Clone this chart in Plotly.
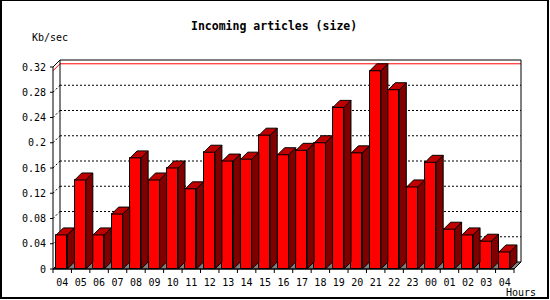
import plotly.graph_objects as go

# ---------------- data ----------------
hours = ["04", "05", "06", "07", "08", "09", "10", "11", "12", "13", "14", "15",
         "16", "17", "18", "19", "20", "21", "22", "23", "00", "01", "02", "03", "04"]
kb_per_sec = [0.054, 0.141, 0.054, 0.087, 0.176, 0.141, 0.160, 0.127, 0.185, 0.171,
              0.174, 0.212, 0.181, 0.188, 0.200, 0.256, 0.184, 0.314, 0.284, 0.130,
              0.169, 0.063, 0.054, 0.044, 0.027]
y_ticks = [0, 0.04, 0.08, 0.12, 0.16, 0.2, 0.24, 0.28, 0.32]
y_tick_text = ["0", "0.04", "0.08", "0.12", "0.16", "0.2", "0.24", "0.28", "0.32"]
title_text = "Incoming articles (size)"
y_title = "Kb/sec"
x_title = "Hours"

# ---------------- geometry ----------------
W, H = 550, 300
N = len(hours)
YMAX = 0.32
FRONT_X0 = 53          # px of front-left axis
FRONT_Y0 = 269         # px of front baseline
UNIT_PX = 18.44        # px per category
Y_PX = 631.25          # px per unit value
DEPTH_X, DEPTH_Y = 7, 7  # 3D depth in px
SL, SB, SR, ST = 6, 6, 2, 2  # slack around frame

DXU = DEPTH_X / UNIT_PX
DYU = DEPTH_Y / Y_PX
L = FRONT_X0 - SL
frame_right_px = FRONT_X0 + N * UNIT_PX + DEPTH_X
R = W - (frame_right_px + SR)
B = H - (FRONT_Y0 + SB)
frame_top_px = FRONT_Y0 - YMAX * Y_PX - DEPTH_Y
T = frame_top_px - ST
PW = W - L - R
PH = H - T - B

x_lo = -0.5 - SL / UNIT_PX
x_hi = N - 0.5 + (DEPTH_X + SR) / UNIT_PX
y_lo = -SB / Y_PX
y_hi = YMAX + (DEPTH_Y + ST) / Y_PX


def px_x(p):
    return (p - L) / PW


def px_y(p):
    return 1 - (p - T) / PH


FONT = "DejaVu Sans Mono"
BAR_W = 0.6
BAR_OFF = -0.32

fig = go.Figure()

# side faces and top faces
sx, sy, tx, ty = [], [], [], []
for i, v in enumerate(kb_per_sec):
    xl = i + BAR_OFF
    xr = xl + BAR_W
    sx += [xr, xr + DXU, xr + DXU, xr, xr, None]
    sy += [0, DYU, v + DYU, v, 0, None]
    tx += [xl, xr, xr + DXU, xl + DXU, xl, None]
    ty += [v, v, v + DYU, v + DYU, v, None]

fig.add_trace(go.Bar(
    x=list(range(N)), y=kb_per_sec, width=BAR_W, offset=BAR_OFF,
    marker=dict(color="#ff0000", line=dict(color="black", width=1)),
    hoverinfo="skip", showlegend=False))
fig.add_trace(go.Scatter(x=sx, y=sy, mode="lines", fill="toself",
                         fillcolor="#800000", line=dict(color="black", width=1),
                         hoverinfo="skip", showlegend=False))
fig.add_trace(go.Scatter(x=tx, y=ty, mode="lines", fill="toself",
                         fillcolor="#c00000", line=dict(color="black", width=1),
                         hoverinfo="skip", showlegend=False))

shapes = []
xl0, xr0 = -0.5, N - 0.5
# floor
shapes.append(dict(type="path", layer="below",
                   path=f"M {xl0} 0 L {xr0} 0 L {xr0 + DXU} {DYU} L {xl0 + DXU} {DYU} Z",
                   fillcolor="#808080", line=dict(color="black", width=1)))
# grid lines on back wall + small diagonals
for v in y_ticks[1:-1]:
    shapes.append(dict(type="line", layer="below", x0=xl0 + DXU, x1=xr0 + DXU,
                       y0=v + DYU, y1=v + DYU,
                       line=dict(color="black", width=1, dash="2px,2px")))
    shapes.append(dict(type="line", layer="below", x0=xl0, x1=xl0 + DXU,
                       y0=v, y1=v + DYU,
                       line=dict(color="black", width=1, dash="2px,2px")))
# red max line
vmax = max(kb_per_sec)
shapes.append(dict(type="path", layer="below",
                   path=f"M {xl0} {vmax} L {xl0 + DXU} {vmax + DYU} L {xr0 + DXU} {vmax + DYU}",
                   line=dict(color="#ff0000", width=1)))
# frame
frame_path = (f"M {xl0} 0 L {xl0} {YMAX} L {xl0 + DXU} {YMAX + DYU} "
              f"L {xr0 + DXU} {YMAX + DYU} L {xr0 + DXU} {DYU} L {xr0} 0 Z "
              f"M {xl0 + DXU} {DYU} L {xl0 + DXU} {YMAX + DYU}")
shapes.append(dict(type="path", layer="below", path=frame_path,
                   line=dict(color="black", width=1)))
# y ticks
for v in y_ticks:
    shapes.append(dict(type="line", layer="above", x0=xl0 - 3 / UNIT_PX, x1=xl0,
                       y0=v, y1=v, line=dict(color="black", width=1)))
# x ticks at boundaries
for k in range(N + 1):
    shapes.append(dict(type="line", layer="above", x0=k - 0.5, x1=k - 0.5,
                       y0=0, y1=-4 / Y_PX, line=dict(color="black", width=1)))
# outer border
shapes.append(dict(type="line", xref="paper", yref="paper",
                   x0=px_x(1), x1=px_x(1), y0=px_y(0), y1=px_y(299),
                   line=dict(color="black", width=2)))
shapes.append(dict(type="line", xref="paper", yref="paper",
                   x0=px_x(548), x1=px_x(548), y0=px_y(0), y1=px_y(299),
                   line=dict(color="black", width=2)))
shapes.append(dict(type="line", xref="paper", yref="paper",
                   x0=px_x(0), x1=px_x(549), y0=px_y(298), y1=px_y(298),
                   line=dict(color="black", width=2)))
shapes.append(dict(type="line", xref="paper", yref="paper",
                   x0=px_x(0), x1=px_x(549), y0=px_y(0.5), y1=px_y(0.5),
                   line=dict(color="black", width=1)))

annotations = [
    dict(text=f"<b>{title_text}</b>", xref="paper", yref="paper",
         x=px_x(274), y=px_y(26.5), xanchor="center", yanchor="middle",
         showarrow=False, font=dict(family=FONT, size=11.5, color="black")),
    dict(text=y_title, xref="paper", yref="paper",
         x=px_x(30), y=px_y(37.5), xanchor="left", yanchor="middle",
         showarrow=False, font=dict(family=FONT, size=10, color="black")),
    dict(text=x_title, xref="paper", yref="paper",
         x=px_x(504), y=px_y(292), xanchor="left", yanchor="middle",
         showarrow=False, font=dict(family=FONT, size=10, color="black")),
]

fig.update_layout(
    width=W, height=H,
    margin=dict(l=L, r=R, t=T, b=B, pad=0),
    paper_bgcolor="white", plot_bgcolor="white",
    showlegend=False, bargap=0,
    shapes=shapes, annotations=annotations,
    xaxis=dict(range=[x_lo, x_hi], tickmode="array", tickvals=list(range(N)),
               ticktext=hours, ticks="", showgrid=False, zeroline=False,
               showline=False, tickfont=dict(family=FONT, size=10, color="black"),
               ticklabelstandoff=0, fixedrange=True),
    yaxis=dict(range=[y_lo, y_hi], tickmode="array", tickvals=y_ticks,
               ticktext=y_tick_text, ticks="", showgrid=False, zeroline=False,
               showline=False, tickfont=dict(family=FONT, size=10, color="black"),
               fixedrange=True),
)

fig.write_html("out.html")
